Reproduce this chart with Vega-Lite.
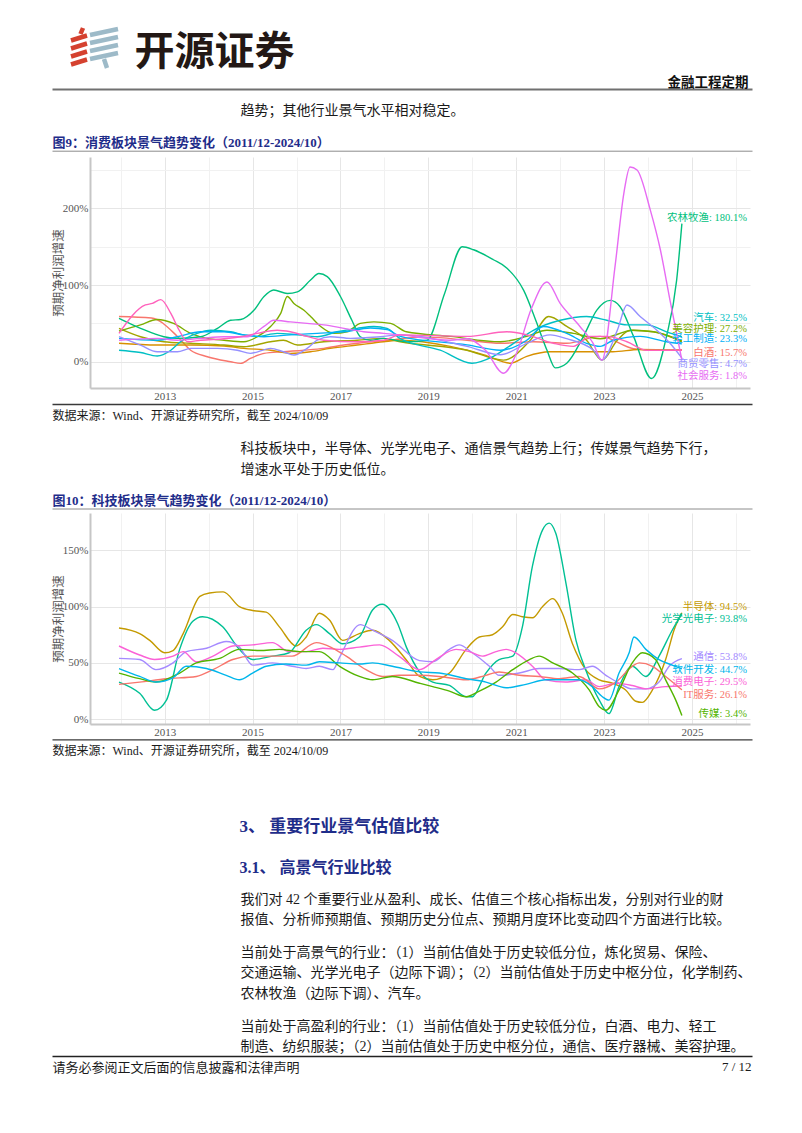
{
"$schema": "https://vega.github.io/schema/vega-lite/v6.json",
"background": "white",
"padding": {"left": 52, "top": 0, "right": 0, "bottom": 0},
"spacing": 0,
"bounds": "flush",
"resolve": {"scale": {"color": "independent"}},
"config": {
  "view": {"stroke": null},
  "axis": {"ticks": false, "labelFont": "Liberation Serif", "titleFont": "Liberation Serif, Noto Sans CJK SC", "titleFontWeight": "normal", "titleColor": "#1a1a1a"}
},
"datasets": {
  "logo": [
    {"id":"r0","part":"红","x":2.85,"y":5.5},{"id":"r0","part":"红","x":3.1,"y":6.1},
    {"id":"r1","part":"红","x":1.9,"y":4.85},{"id":"r1","part":"红","x":3.5,"y":5.35},
    {"id":"r2","part":"红","x":1.9,"y":4.05},{"id":"r2","part":"红","x":3.5,"y":4.55},
    {"id":"r3","part":"红","x":1.9,"y":3.25},{"id":"r3","part":"红","x":3.5,"y":3.75},
    {"id":"r4","part":"红","x":1.9,"y":2.45},{"id":"r4","part":"红","x":3.5,"y":2.95},
    {"id":"b1","part":"蓝","x":3.8,"y":5.4},{"id":"b1","part":"蓝","x":6.6,"y":6.0},
    {"id":"b2","part":"蓝","x":3.8,"y":4.6},{"id":"b2","part":"蓝","x":6.6,"y":5.2},
    {"id":"b3","part":"蓝","x":3.8,"y":3.8},{"id":"b3","part":"蓝","x":6.6,"y":4.4},
    {"id":"b4","part":"蓝","x":3.8,"y":3.0},{"id":"b4","part":"蓝","x":6.6,"y":3.6},
    {"id":"b5","part":"蓝","x":5.2,"y":3.0},{"id":"b5","part":"蓝","x":5.5,"y":2.1}
  ],
  "c1": [
    {"s":"白酒","t":2011.96,"v":59},{"s":"白酒","t":2012.7,"v":57},{"s":"白酒","t":2013.29,"v":33},{"s":"白酒","t":2013.59,"v":15},{"s":"白酒","t":2013.97,"v":6.5},{"s":"白酒","t":2014.5,"v":0},{"s":"白酒","t":2014.73,"v":-2.2},{"s":"白酒","t":2014.95,"v":4.3},{"s":"白酒","t":2015.26,"v":10.9},{"s":"白酒","t":2015.7,"v":13},{"s":"白酒","t":2016.17,"v":15},{"s":"白酒","t":2016.62,"v":17.4},{"s":"白酒","t":2017.08,"v":21.7},{"s":"白酒","t":2017.68,"v":26},{"s":"白酒","t":2018.14,"v":28},{"s":"白酒","t":2018.5,"v":31},{"s":"白酒","t":2019.0,"v":32},{"s":"白酒","t":2019.88,"v":28},{"s":"白酒","t":2020.64,"v":24},{"s":"白酒","t":2021.39,"v":26},{"s":"白酒","t":2022.15,"v":24},{"s":"白酒","t":2022.91,"v":33},{"s":"白酒","t":2023.67,"v":17},{"s":"白酒","t":2024.12,"v":15},{"s":"白酒","t":2024.77,"v":15.7},
    {"s":"其他A","t":2011.96,"v":24},{"s":"其他A","t":2012.83,"v":21.7},{"s":"其他A","t":2013.59,"v":21.7},{"s":"其他A","t":2014.35,"v":20.4},{"s":"其他A","t":2014.8,"v":17.4},{"s":"其他A","t":2015.41,"v":15},{"s":"其他A","t":2015.86,"v":10.9},{"s":"其他A","t":2016.32,"v":13},{"s":"其他A","t":2016.77,"v":17.4},{"s":"其他A","t":2017.38,"v":21.7},{"s":"其他A","t":2017.98,"v":26},{"s":"其他A","t":2018.36,"v":28},{"s":"其他A","t":2019.5,"v":20},{"s":"其他A","t":2020.27,"v":9},{"s":"其他A","t":2020.87,"v":-2},{"s":"其他A","t":2021.24,"v":7},{"s":"其他A","t":2021.77,"v":13},{"s":"其他A","t":2022.6,"v":13},{"s":"其他A","t":2023.2,"v":13},{"s":"其他A","t":2023.8,"v":16},{"s":"其他A","t":2024.77,"v":15},
    {"s":"其他B","t":2011.96,"v":43.5},{"s":"其他B","t":2012.45,"v":32.6},{"s":"其他B","t":2012.98,"v":26},{"s":"其他B","t":2013.59,"v":24},{"s":"其他B","t":2014.35,"v":21.7},{"s":"其他B","t":2014.8,"v":19.6},{"s":"其他B","t":2015.41,"v":26},{"s":"其他B","t":2015.7,"v":28},{"s":"其他B","t":2016.02,"v":21.7},{"s":"其他B","t":2016.62,"v":26},{"s":"其他B","t":2017.38,"v":28},{"s":"其他B","t":2017.98,"v":30.4},{"s":"其他B","t":2018.36,"v":26},{"s":"其他B","t":2019.88,"v":15},{"s":"其他B","t":2020.71,"v":2},{"s":"其他B","t":2021.32,"v":28},{"s":"其他B","t":2021.74,"v":59},{"s":"其他B","t":2022.15,"v":46},{"s":"其他B","t":2022.6,"v":28},{"s":"其他B","t":2022.95,"v":2},{"s":"其他B","t":2023.3,"v":28},{"s":"其他B","t":2023.6,"v":41},{"s":"其他B","t":2024.12,"v":39},{"s":"其他B","t":2024.77,"v":26},
    {"s":"美容护理","t":2011.96,"v":40},{"s":"美容护理","t":2012.45,"v":48},{"s":"美容护理","t":2012.83,"v":55},{"s":"美容护理","t":2013.2,"v":50},{"s":"美容护理","t":2013.59,"v":37},{"s":"美容护理","t":2013.97,"v":30.4},{"s":"美容护理","t":2014.35,"v":28},{"s":"美容护理","t":2014.8,"v":26},{"s":"美容护理","t":2015.11,"v":32.6},{"s":"美容护理","t":2015.41,"v":46},{"s":"美容护理","t":2015.64,"v":63},{"s":"美容护理","t":2015.79,"v":85},{"s":"美容护理","t":2015.94,"v":76},{"s":"美容护理","t":2016.17,"v":67},{"s":"美容护理","t":2016.32,"v":59},{"s":"美容护理","t":2016.55,"v":46},{"s":"美容护理","t":2016.85,"v":37},{"s":"美容护理","t":2017.15,"v":39},{"s":"美容护理","t":2017.45,"v":50},{"s":"美容护理","t":2017.76,"v":52},{"s":"美容护理","t":2018.14,"v":50},{"s":"美容护理","t":2018.5,"v":39},{"s":"美容护理","t":2019.5,"v":33},{"s":"美容护理","t":2020.64,"v":26},{"s":"美容护理","t":2021.24,"v":33},{"s":"美容护理","t":2021.7,"v":41},{"s":"美容护理","t":2022.3,"v":37},{"s":"美容护理","t":2022.91,"v":30},{"s":"美容护理","t":2023.67,"v":41},{"s":"美容护理","t":2024.12,"v":39},{"s":"美容护理","t":2024.77,"v":27.2},
    {"s":"农林牧渔","t":2011.96,"v":56.5},{"s":"农林牧渔","t":2012.45,"v":43.5},{"s":"农林牧渔","t":2012.98,"v":32.6},{"s":"农林牧渔","t":2013.29,"v":30.4},{"s":"农林牧渔","t":2013.82,"v":32.6},{"s":"农林牧渔","t":2014.2,"v":43.5},{"s":"农林牧渔","t":2014.5,"v":54},{"s":"农林牧渔","t":2014.73,"v":55},{"s":"农林牧渔","t":2015.03,"v":67},{"s":"农林牧渔","t":2015.26,"v":85},{"s":"农林牧渔","t":2015.48,"v":93.5},{"s":"农林牧渔","t":2015.79,"v":89},{"s":"农林牧渔","t":2016.02,"v":91},{"s":"农林牧渔","t":2016.32,"v":106.5},{"s":"农林牧渔","t":2016.51,"v":115},{"s":"农林牧渔","t":2016.7,"v":111},{"s":"农林牧渔","t":2017.0,"v":85},{"s":"农林牧渔","t":2017.26,"v":54},{"s":"农林牧渔","t":2017.45,"v":32.6},{"s":"农林牧渔","t":2017.68,"v":28},{"s":"农林牧渔","t":2017.98,"v":30.4},{"s":"农林牧渔","t":2018.5,"v":26},{"s":"农林牧渔","t":2018.97,"v":28},{"s":"农林牧渔","t":2019.37,"v":89},{"s":"农林牧渔","t":2019.77,"v":150},{"s":"农林牧渔","t":2020.03,"v":146},{"s":"农林牧渔","t":2020.48,"v":133},{"s":"农林牧渔","t":2020.79,"v":122},{"s":"农林牧渔","t":2021.17,"v":93},{"s":"农林牧渔","t":2021.47,"v":50},{"s":"农林牧渔","t":2021.7,"v":15},{"s":"农林牧渔","t":2021.89,"v":-8},{"s":"农林牧渔","t":2022.15,"v":-2},{"s":"农林牧渔","t":2022.53,"v":33},{"s":"农林牧渔","t":2022.83,"v":67},{"s":"农林牧渔","t":2023.14,"v":80},{"s":"农林牧渔","t":2023.36,"v":72},{"s":"农林牧渔","t":2023.67,"v":33},{"s":"农林牧渔","t":2024.08,"v":-22},{"s":"农林牧渔","t":2024.42,"v":33},{"s":"农林牧渔","t":2024.65,"v":106},{"s":"农林牧渔","t":2024.77,"v":180.1},
    {"s":"汽车","t":2011.96,"v":15},{"s":"汽车","t":2012.45,"v":12},{"s":"汽车","t":2012.83,"v":7.4},{"s":"汽车","t":2013.14,"v":15},{"s":"汽车","t":2013.36,"v":26},{"s":"汽车","t":2013.74,"v":37},{"s":"汽车","t":2014.05,"v":41},{"s":"汽车","t":2014.5,"v":39},{"s":"汽车","t":2014.8,"v":35},{"s":"汽车","t":2015.11,"v":33},{"s":"汽车","t":2015.56,"v":37},{"s":"汽车","t":2016.02,"v":35},{"s":"汽车","t":2016.47,"v":32.6},{"s":"汽车","t":2016.92,"v":39},{"s":"汽车","t":2017.38,"v":43.5},{"s":"汽车","t":2017.76,"v":46},{"s":"汽车","t":2018.06,"v":43.5},{"s":"汽车","t":2018.36,"v":30},{"s":"汽车","t":2019.27,"v":15},{"s":"汽车","t":2019.99,"v":-2},{"s":"汽车","t":2020.48,"v":7},{"s":"汽车","t":2020.94,"v":24},{"s":"汽车","t":2021.39,"v":41},{"s":"汽车","t":2022.0,"v":54},{"s":"汽车","t":2022.6,"v":59},{"s":"汽车","t":2023.06,"v":54},{"s":"汽车","t":2023.52,"v":48},{"s":"汽车","t":2023.97,"v":48},{"s":"汽车","t":2024.42,"v":39},{"s":"汽车","t":2024.77,"v":32.5},
    {"s":"轻工制造","t":2011.96,"v":30.4},{"s":"轻工制造","t":2012.83,"v":28},{"s":"轻工制造","t":2013.29,"v":32.6},{"s":"轻工制造","t":2013.82,"v":39},{"s":"轻工制造","t":2014.35,"v":39},{"s":"轻工制造","t":2014.8,"v":35},{"s":"轻工制造","t":2015.26,"v":32.6},{"s":"轻工制造","t":2015.86,"v":35},{"s":"轻工制造","t":2016.47,"v":37},{"s":"轻工制造","t":2017.08,"v":39},{"s":"轻工制造","t":2017.68,"v":44},{"s":"轻工制造","t":2018.06,"v":42},{"s":"轻工制造","t":2018.36,"v":33},{"s":"轻工制造","t":2019.88,"v":22},{"s":"轻工制造","t":2020.64,"v":15},{"s":"轻工制造","t":2021.24,"v":28},{"s":"轻工制造","t":2021.62,"v":46},{"s":"轻工制造","t":2022.15,"v":37},{"s":"轻工制造","t":2022.6,"v":24},{"s":"轻工制造","t":2022.91,"v":20},{"s":"轻工制造","t":2023.21,"v":28},{"s":"轻工制造","t":2023.82,"v":33},{"s":"轻工制造","t":2024.42,"v":26},{"s":"轻工制造","t":2024.77,"v":23.3},
    {"s":"商贸零售","t":2011.96,"v":32.6},{"s":"商贸零售","t":2012.45,"v":21.7},{"s":"商贸零售","t":2012.83,"v":13},{"s":"商贸零售","t":2013.29,"v":13},{"s":"商贸零售","t":2013.59,"v":17.4},{"s":"商贸零售","t":2014.2,"v":17.4},{"s":"商贸零售","t":2014.65,"v":15},{"s":"商贸零售","t":2014.95,"v":10.9},{"s":"商贸零售","t":2015.41,"v":17.4},{"s":"商贸零售","t":2015.7,"v":13},{"s":"商贸零售","t":2015.94,"v":8.7},{"s":"商贸零售","t":2016.24,"v":17.4},{"s":"商贸零售","t":2016.47,"v":28},{"s":"商贸零售","t":2016.77,"v":32.6},{"s":"商贸零售","t":2017.23,"v":30.4},{"s":"商贸零售","t":2017.91,"v":32.6},{"s":"商贸零售","t":2018.36,"v":35},{"s":"商贸零售","t":2019.88,"v":20},{"s":"商贸零售","t":2020.64,"v":9},{"s":"商贸零售","t":2021.24,"v":24},{"s":"商贸零售","t":2021.77,"v":35},{"s":"商贸零售","t":2022.15,"v":30},{"s":"商贸零售","t":2022.76,"v":15},{"s":"商贸零售","t":2022.95,"v":2},{"s":"商贸零售","t":2023.3,"v":41},{"s":"商贸零售","t":2023.52,"v":74},{"s":"商贸零售","t":2023.82,"v":59},{"s":"商贸零售","t":2024.2,"v":41},{"s":"商贸零售","t":2024.5,"v":24},{"s":"商贸零售","t":2024.77,"v":4.7},
    {"s":"社会服务","t":2011.96,"v":28},{"s":"社会服务","t":2012.83,"v":30.4},{"s":"社会服务","t":2013.29,"v":28},{"s":"社会服务","t":2013.82,"v":30.4},{"s":"社会服务","t":2014.35,"v":32.6},{"s":"社会服务","t":2014.88,"v":32.6},{"s":"社会服务","t":2015.26,"v":46},{"s":"社会服务","t":2015.48,"v":54},{"s":"社会服务","t":2015.86,"v":52},{"s":"社会服务","t":2016.24,"v":50},{"s":"社会服务","t":2016.62,"v":48},{"s":"社会服务","t":2017.08,"v":43.5},{"s":"社会服务","t":2017.53,"v":39},{"s":"社会服务","t":2017.98,"v":37},{"s":"社会服务","t":2018.36,"v":35},{"s":"社会服务","t":2019.5,"v":28},{"s":"社会服务","t":2019.88,"v":30},{"s":"社会服务","t":2020.3,"v":15},{"s":"社会服务","t":2020.71,"v":-15},{"s":"社会服务","t":2021.0,"v":10},{"s":"社会服务","t":2021.35,"v":70},{"s":"社会服务","t":2021.7,"v":104},{"s":"社会服务","t":2022.0,"v":76},{"s":"社会服务","t":2022.45,"v":46},{"s":"社会服务","t":2022.75,"v":24},{"s":"社会服务","t":2022.95,"v":2},{"s":"社会服务","t":2023.25,"v":125},{"s":"社会服务","t":2023.45,"v":220},{"s":"社会服务","t":2023.59,"v":254},{"s":"社会服务","t":2023.75,"v":250},{"s":"社会服务","t":2024.05,"v":198},{"s":"社会服务","t":2024.28,"v":146},{"s":"社会服务","t":2024.5,"v":80},{"s":"社会服务","t":2024.77,"v":1.8},
    {"s":"其他C","t":2011.96,"v":37},{"s":"其他C","t":2012.56,"v":74},{"s":"其他C","t":2012.72,"v":76},{"s":"其他C","t":2012.91,"v":81},{"s":"其他C","t":2013.14,"v":63},{"s":"其他C","t":2013.33,"v":41},{"s":"其他C","t":2013.52,"v":26},{"s":"其他C","t":2013.82,"v":28},{"s":"其他C","t":2014.35,"v":30},{"s":"其他C","t":2014.73,"v":32.6},{"s":"其他C","t":2015.11,"v":37},{"s":"其他C","t":2015.56,"v":41},{"s":"其他C","t":2015.86,"v":39},{"s":"其他C","t":2016.24,"v":33},{"s":"其他C","t":2016.62,"v":28},{"s":"其他C","t":2017.38,"v":26},{"s":"其他C","t":2017.98,"v":28},{"s":"其他C","t":2018.36,"v":35},{"s":"其他C","t":2019.88,"v":33},{"s":"其他C","t":2020.79,"v":39},{"s":"其他C","t":2021.24,"v":35},{"s":"其他C","t":2021.85,"v":24},{"s":"其他C","t":2022.3,"v":20},{"s":"其他C","t":2022.68,"v":33},{"s":"其他C","t":2023.06,"v":33},{"s":"其他C","t":2023.52,"v":26},{"s":"其他C","t":2023.97,"v":15},{"s":"其他C","t":2024.77,"v":15}
  ],
  "c1lab": [
    {"s":"农林牧渔","label":"农林牧渔: 180.1%","ly":187.7},
    {"s":"汽车","label":"汽车: 32.5%","ly":56.6},
    {"s":"美容护理","label":"美容护理: 27.2%","ly":42.2},
    {"s":"轻工制造","label":"轻工制造: 23.3%","ly":29.2},
    {"s":"白酒","label":"白酒: 15.7%","ly":11.7},
    {"s":"商贸零售","label":"商贸零售: 4.7%","ly":-3.4},
    {"s":"社会服务","label":"社会服务: 1.8%","ly":-18.3}
  ],
  "c2": [
    {"s":"半导体","t":2011.96,"v":81},{"s":"半导体","t":2012.43,"v":76},{"s":"半导体","t":2012.66,"v":70},{"s":"半导体","t":2013.0,"v":59},{"s":"半导体","t":2013.19,"v":61},{"s":"半导体","t":2013.42,"v":76},{"s":"半导体","t":2013.8,"v":109},{"s":"半导体","t":2014.02,"v":112},{"s":"半导体","t":2014.33,"v":113},{"s":"半导体","t":2014.7,"v":100},{"s":"半导体","t":2015.0,"v":96.5},{"s":"半导体","t":2015.31,"v":95},{"s":"半导体","t":2015.61,"v":82},{"s":"半导体","t":2015.99,"v":65},{"s":"半导体","t":2016.22,"v":73},{"s":"半导体","t":2016.52,"v":94},{"s":"半导体","t":2016.75,"v":88},{"s":"半导体","t":2017.05,"v":70},{"s":"半导体","t":2017.43,"v":76},{"s":"半导体","t":2017.73,"v":79},{"s":"半导体","t":2018.11,"v":70},{"s":"半导体","t":2018.49,"v":53},{"s":"半导体","t":2018.8,"v":38},{"s":"半导体","t":2019.1,"v":35},{"s":"半导体","t":2019.48,"v":41},{"s":"半导体","t":2019.86,"v":62},{"s":"半导体","t":2020.16,"v":73},{"s":"半导体","t":2020.46,"v":75},{"s":"半导体","t":2020.69,"v":82},{"s":"半导体","t":2020.92,"v":93},{"s":"半导体","t":2021.14,"v":91},{"s":"半导体","t":2021.37,"v":90},{"s":"半导体","t":2021.6,"v":100},{"s":"半导体","t":2021.83,"v":107},{"s":"半导体","t":2022.05,"v":94},{"s":"半导体","t":2022.28,"v":67},{"s":"半导体","t":2022.58,"v":44},{"s":"半导体","t":2022.89,"v":35},{"s":"半导体","t":2023.19,"v":32},{"s":"半导体","t":2023.49,"v":26},{"s":"半导体","t":2023.72,"v":16},{"s":"半导体","t":2023.87,"v":15},{"s":"半导体","t":2024.1,"v":26},{"s":"半导体","t":2024.4,"v":53},{"s":"半导体","t":2024.6,"v":80},{"s":"半导体","t":2024.77,"v":94.5},
    {"s":"光学光电子","t":2011.96,"v":33},{"s":"光学光电子","t":2012.43,"v":23},{"s":"光学光电子","t":2012.77,"v":8},{"s":"光学光电子","t":2013.04,"v":17},{"s":"光学光电子","t":2013.34,"v":62},{"s":"光学光电子","t":2013.64,"v":87},{"s":"光学光电子","t":2013.86,"v":91},{"s":"光学光电子","t":2014.32,"v":82},{"s":"光学光电子","t":2014.7,"v":62},{"s":"光学光电子","t":2015.0,"v":53},{"s":"光学光电子","t":2015.45,"v":56},{"s":"光学光电子","t":2015.83,"v":59},{"s":"光学光电子","t":2016.22,"v":79},{"s":"光学光电子","t":2016.45,"v":84},{"s":"光学光电子","t":2016.75,"v":76},{"s":"光学光电子","t":2017.05,"v":67},{"s":"光学光电子","t":2017.43,"v":73},{"s":"光学光电子","t":2017.73,"v":97},{"s":"光学光电子","t":2017.95,"v":102},{"s":"光学光电子","t":2018.3,"v":85},{"s":"光学光电子","t":2018.5,"v":64},{"s":"光学光电子","t":2018.8,"v":42},{"s":"光学光电子","t":2019.1,"v":33},{"s":"光学光电子","t":2019.48,"v":30},{"s":"光学光电子","t":2019.86,"v":20},{"s":"光学光电子","t":2020.0,"v":20},{"s":"光学光电子","t":2020.31,"v":41},{"s":"光学光电子","t":2020.61,"v":53},{"s":"光学光电子","t":2020.92,"v":56},{"s":"光学光电子","t":2021.14,"v":82},{"s":"光学光电子","t":2021.37,"v":136},{"s":"光学光电子","t":2021.6,"v":168},{"s":"光学光电子","t":2021.75,"v":174},{"s":"光学光电子","t":2021.9,"v":165},{"s":"光学光电子","t":2022.13,"v":121},{"s":"光学光电子","t":2022.36,"v":70},{"s":"光学光电子","t":2022.58,"v":44},{"s":"光学光电子","t":2022.89,"v":17},{"s":"光学光电子","t":2023.11,"v":5},{"s":"光学光电子","t":2023.34,"v":29},{"s":"光学光电子","t":2023.64,"v":47},{"s":"光学光电子","t":2023.95,"v":38},{"s":"光学光电子","t":2024.25,"v":56},{"s":"光学光电子","t":2024.55,"v":79},{"s":"光学光电子","t":2024.77,"v":93.8},
    {"s":"通信","t":2011.96,"v":54},{"s":"通信","t":2012.43,"v":53},{"s":"通信","t":2012.8,"v":44},{"s":"通信","t":2013.19,"v":50},{"s":"通信","t":2013.49,"v":60},{"s":"通信","t":2013.95,"v":63},{"s":"通信","t":2014.4,"v":69},{"s":"通信","t":2014.7,"v":64},{"s":"通信","t":2015.0,"v":48},{"s":"通信","t":2015.45,"v":50},{"s":"通信","t":2015.9,"v":47},{"s":"通信","t":2016.22,"v":45},{"s":"通信","t":2016.52,"v":47},{"s":"通信","t":2016.83,"v":44},{"s":"通信","t":2016.98,"v":55},{"s":"通信","t":2017.45,"v":84},{"s":"通信","t":2017.73,"v":79},{"s":"通信","t":2018.18,"v":70},{"s":"通信","t":2018.8,"v":52},{"s":"通信","t":2019.1,"v":51},{"s":"通信","t":2019.48,"v":62},{"s":"通信","t":2019.7,"v":66},{"s":"通信","t":2020.0,"v":59},{"s":"通信","t":2020.39,"v":47},{"s":"通信","t":2020.61,"v":39},{"s":"通信","t":2021.07,"v":41},{"s":"通信","t":2021.52,"v":45},{"s":"通信","t":2021.98,"v":45},{"s":"通信","t":2022.43,"v":44},{"s":"通信","t":2022.73,"v":47},{"s":"通信","t":2023.04,"v":39},{"s":"通信","t":2023.34,"v":32},{"s":"通信","t":2023.64,"v":27},{"s":"通信","t":2023.95,"v":27},{"s":"通信","t":2024.25,"v":33},{"s":"通信","t":2024.48,"v":47},{"s":"通信","t":2024.77,"v":53.8},
    {"s":"消费电子","t":2011.96,"v":65},{"s":"消费电子","t":2012.43,"v":57},{"s":"消费电子","t":2012.77,"v":53},{"s":"消费电子","t":2013.19,"v":56},{"s":"消费电子","t":2013.42,"v":60},{"s":"消费电子","t":2013.72,"v":51},{"s":"消费电子","t":2014.1,"v":56},{"s":"消费电子","t":2014.55,"v":65},{"s":"消费电子","t":2015.0,"v":66},{"s":"消费电子","t":2015.45,"v":68},{"s":"消费电子","t":2015.83,"v":60},{"s":"消费电子","t":2016.22,"v":60},{"s":"消费电子","t":2016.6,"v":63},{"s":"消费电子","t":2016.98,"v":62},{"s":"消费电子","t":2017.43,"v":64},{"s":"消费电子","t":2017.89,"v":66},{"s":"消费电子","t":2018.33,"v":56},{"s":"消费电子","t":2018.8,"v":44},{"s":"消费电子","t":2019.17,"v":53},{"s":"消费电子","t":2019.63,"v":62},{"s":"消费电子","t":2019.93,"v":60},{"s":"消费电子","t":2020.23,"v":56},{"s":"消费电子","t":2020.54,"v":60},{"s":"消费电子","t":2020.77,"v":62},{"s":"消费电子","t":2020.99,"v":59},{"s":"消费电子","t":2021.37,"v":47},{"s":"消费电子","t":2021.67,"v":35},{"s":"消费电子","t":2022.13,"v":33},{"s":"消费电子","t":2022.58,"v":35},{"s":"消费电子","t":2022.89,"v":29},{"s":"消费电子","t":2023.27,"v":32},{"s":"消费电子","t":2023.64,"v":30},{"s":"消费电子","t":2023.95,"v":27},{"s":"消费电子","t":2024.4,"v":29},{"s":"消费电子","t":2024.77,"v":29.5},
    {"s":"IT服务","t":2011.96,"v":31},{"s":"IT服务","t":2012.43,"v":33},{"s":"IT服务","t":2013.04,"v":36},{"s":"IT服务","t":2013.72,"v":38},{"s":"IT服务","t":2014.1,"v":44},{"s":"IT服务","t":2014.55,"v":53},{"s":"IT服务","t":2015.0,"v":56},{"s":"IT服务","t":2015.45,"v":56},{"s":"IT服务","t":2015.9,"v":56},{"s":"IT服务","t":2016.45,"v":68},{"s":"IT服务","t":2016.83,"v":63},{"s":"IT服务","t":2017.13,"v":56},{"s":"IT服务","t":2017.58,"v":44},{"s":"IT服务","t":2017.95,"v":38},{"s":"IT服务","t":2018.33,"v":39},{"s":"IT服务","t":2018.8,"v":39},{"s":"IT服务","t":2019.25,"v":38},{"s":"IT服务","t":2019.86,"v":35},{"s":"IT服务","t":2020.31,"v":39},{"s":"IT服务","t":2020.61,"v":42},{"s":"IT服务","t":2021.07,"v":39},{"s":"IT服务","t":2021.52,"v":38},{"s":"IT服务","t":2021.98,"v":36},{"s":"IT服务","t":2022.43,"v":38},{"s":"IT服务","t":2022.89,"v":27},{"s":"IT服务","t":2023.27,"v":33},{"s":"IT服务","t":2023.64,"v":47},{"s":"IT服务","t":2023.8,"v":50},{"s":"IT服务","t":2024.1,"v":47},{"s":"IT服务","t":2024.4,"v":38},{"s":"IT服务","t":2024.77,"v":26.1},
    {"s":"传媒","t":2011.96,"v":41},{"s":"传媒","t":2012.43,"v":36},{"s":"传媒","t":2012.8,"v":33},{"s":"传媒","t":2013.34,"v":41},{"s":"传媒","t":2013.72,"v":50},{"s":"传媒","t":2014.25,"v":54},{"s":"传媒","t":2014.7,"v":62},{"s":"传媒","t":2015.16,"v":61},{"s":"传媒","t":2015.61,"v":62},{"s":"传媒","t":2016.07,"v":60},{"s":"传媒","t":2016.52,"v":60},{"s":"传媒","t":2016.98,"v":47},{"s":"传媒","t":2017.43,"v":38},{"s":"传媒","t":2017.73,"v":35},{"s":"传媒","t":2018.18,"v":38},{"s":"传媒","t":2018.8,"v":32},{"s":"传媒","t":2019.1,"v":29},{"s":"传媒","t":2019.48,"v":25},{"s":"传媒","t":2019.86,"v":20},{"s":"传媒","t":2020.16,"v":25},{"s":"传媒","t":2020.54,"v":33},{"s":"传媒","t":2020.92,"v":44},{"s":"传媒","t":2021.3,"v":53},{"s":"传媒","t":2021.52,"v":56},{"s":"传媒","t":2021.83,"v":50},{"s":"传媒","t":2022.28,"v":41},{"s":"传媒","t":2022.66,"v":26},{"s":"传媒","t":2022.89,"v":11},{"s":"传媒","t":2023.04,"v":8},{"s":"传媒","t":2023.34,"v":26},{"s":"传媒","t":2023.64,"v":50},{"s":"传媒","t":2023.87,"v":59},{"s":"传媒","t":2024.17,"v":53},{"s":"传媒","t":2024.4,"v":35},{"s":"传媒","t":2024.63,"v":17},{"s":"传媒","t":2024.77,"v":3.4},
    {"s":"软件开发","t":2011.96,"v":45},{"s":"软件开发","t":2012.43,"v":38},{"s":"软件开发","t":2012.8,"v":33},{"s":"软件开发","t":2013.19,"v":37},{"s":"软件开发","t":2013.49,"v":47},{"s":"软件开发","t":2013.95,"v":45},{"s":"软件开发","t":2014.4,"v":39},{"s":"软件开发","t":2014.7,"v":35},{"s":"软件开发","t":2015.0,"v":41},{"s":"软件开发","t":2015.31,"v":47},{"s":"软件开发","t":2015.76,"v":49},{"s":"软件开发","t":2016.22,"v":48},{"s":"软件开发","t":2016.52,"v":51},{"s":"软件开发","t":2016.98,"v":50},{"s":"软件开发","t":2017.43,"v":49},{"s":"软件开发","t":2017.73,"v":50},{"s":"软件开发","t":2018.18,"v":47},{"s":"软件开发","t":2018.8,"v":42},{"s":"软件开发","t":2019.25,"v":41},{"s":"软件开发","t":2019.86,"v":36},{"s":"软件开发","t":2020.31,"v":33},{"s":"软件开发","t":2020.77,"v":28},{"s":"软件开发","t":2021.22,"v":31},{"s":"软件开发","t":2021.67,"v":35},{"s":"软件开发","t":2022.13,"v":35},{"s":"软件开发","t":2022.43,"v":35},{"s":"软件开发","t":2022.73,"v":29},{"s":"软件开发","t":2022.96,"v":20},{"s":"软件开发","t":2023.11,"v":17},{"s":"软件开发","t":2023.34,"v":41},{"s":"软件开发","t":2023.57,"v":59},{"s":"软件开发","t":2023.68,"v":73},{"s":"软件开发","t":2023.95,"v":62},{"s":"软件开发","t":2024.25,"v":53},{"s":"软件开发","t":2024.55,"v":48},{"s":"软件开发","t":2024.77,"v":44.7}
  ],
  "c2lab": [
    {"s":"半导体","label":"半导体: 94.5%","ly":100},
    {"s":"光学光电子","label":"光学光电子: 93.8%","ly":88.8},
    {"s":"通信","label":"通信: 53.8%","ly":55},
    {"s":"软件开发","label":"软件开发: 44.7%","ly":43.8},
    {"s":"消费电子","label":"消费电子: 29.5%","ly":33},
    {"s":"IT服务","label":"IT服务: 26.1%","ly":21.6},
    {"s":"传媒","label":"传媒: 3.4%","ly":4.4}
  ],
  "dummy": [{"k": 0}]
},
"vconcat": [
  {
    "width": 700, "height": 89,
    "data": {"name": "logo"},
    "mark": {"type": "line", "strokeWidth": 4.5, "strokeCap": "butt"},
    "encoding": {
      "x": {"field": "x", "type": "quantitative", "scale": {"domain": [0, 70], "nice": false, "zero": false},
        "axis": {"orient": "bottom", "domainColor": "#707070", "domainWidth": 2, "labels": false, "grid": false,
          "title": "金融工程定期", "titleX": 696, "titleY": -2.7, "titleAngle": 0, "titleAlign": "right", "titleBaseline": "alphabetic",
          "titleFont": "Noto Sans CJK SC", "titleFontSize": 13.5, "titleFontWeight": "bold", "titleColor": "#111111"}},
      "y": {"field": "y", "type": "quantitative", "scale": {"domain": [0, 8.9], "nice": false, "zero": false},
        "axis": {"orient": "left", "domain": false, "labels": false, "grid": false,
          "title": "开源证券", "titleX": 82, "titleY": 64, "titleAngle": 0, "titleAlign": "left", "titleBaseline": "alphabetic",
          "titleFont": "Noto Sans CJK SC", "titleFontSize": 40, "titleFontWeight": "bold", "titleColor": "#231815"}},
      "detail": {"field": "id"},
      "color": {"field": "part", "type": "nominal", "scale": {"domain": ["红", "蓝"], "range": ["#d5412f", "#9dbac8"]}, "legend": null}
    }
  },
  {
    "width": 700, "height": 68,
    "data": {"name": "dummy"},
    "mark": {"type": "point", "opacity": 0, "size": 0},
    "encoding": {
      "x": {"field": "k", "type": "quantitative", "scale": {"domain": [-1, 1]},
        "axis": {"orient": "bottom", "offset": -6.3, "domainColor": "#8c8c8c", "domainWidth": 1, "labels": false, "grid": false,
          "title": "图9：消费板块景气趋势变化（2011/12-2024/10）", "titleX": 0, "titleY": -4.1, "titleAngle": 0, "titleAlign": "left", "titleBaseline": "alphabetic",
          "titleFontSize": 13, "titleFontWeight": "bold", "titleColor": "#1f2d8a"}},
      "y": {"field": "k", "type": "quantitative", "scale": {"domain": [-1, 1]},
        "axis": {"orient": "left", "domain": false, "labels": false, "grid": false,
          "title": "趋势；其他行业景气水平相对稳定。", "titleX": 188, "titleY": 25.5, "titleAngle": 0, "titleAlign": "left", "titleBaseline": "alphabetic",
          "titleFontSize": 14}}
    }
  },
  {
    "width": 700, "height": 231,
    "layer": [
      {
        "data": {"name": "c1"},
        "mark": {"type": "line", "interpolate": "monotone", "strokeWidth": 1.4, "strokeJoin": "round"},
        "encoding": {
          "x": {"field": "t", "type": "quantitative", "title": null,
            "scale": {"domain": [2011.3, 2026.32], "range": [38, 698], "nice": false, "zero": false},
            "axis": {"orient": "bottom", "values": [2012,2013,2014,2015,2016,2017,2018,2019,2020,2021,2022,2023,2024,2025,2026],
              "labelExpr": "datum.value % 2 === 1 ? format(datum.value, 'd') : ''",
              "domainColor": "#c6c6c6", "domainWidth": 2, "labelFontSize": 11, "labelColor": "#555555", "labelPadding": 2,
              "grid": true, "gridWidth": 1, "gridColor": {"condition": {"test": "datum.value % 2 === 1", "value": "#e6e6e6"}, "value": "#f1f1f1"}}},
          "y": {"field": "v", "type": "quantitative",
            "scale": {"domain": [-34.3, 267], "nice": false, "zero": false},
            "axis": {"orient": "left", "offset": -38, "values": [0, 50, 100, 150, 200, 250],
              "labelExpr": "datum.value % 100 === 0 ? datum.value + '%' : ''",
              "domainColor": "#c6c6c6", "domainWidth": 2, "labelFontSize": 11, "labelColor": "#555555", "labelPadding": 2,
              "grid": true, "gridWidth": 1, "gridColor": {"condition": {"test": "datum.value % 100 === 0", "value": "#e6e6e6"}, "value": "#f1f1f1"},
              "title": "预期净利润增速", "titleX": -32, "titleY": 115.5, "titleAngle": 270, "titleAlign": "center", "titleBaseline": "middle",
              "titleFont": "Noto Sans CJK SC", "titleFontSize": 12.5, "titleColor": "#555555"}},
          "color": {"field": "s", "type": "nominal", "legend": null,
            "scale": {"domain": ["白酒","其他A","其他B","美容护理","农林牧渔","汽车","轻工制造","商贸零售","社会服务","其他C"],
              "range": ["#F8766D","#D89000","#A3A500","#7CAE00","#00BF7D","#00BFC4","#00B0F6","#9590FF","#E76BF3","#FF62BC"]}}
        }
      },
      {
        "data": {"name": "c1lab"},
        "mark": {"type": "text", "align": "right", "baseline": "middle", "font": "Liberation Serif, Noto Sans CJK SC", "fontSize": 10.5},
        "encoding": {
          "x": {"datum": 2026.25, "type": "quantitative", "title": null},
          "y": {"field": "ly", "type": "quantitative", "title": "预期净利润增速"},
          "text": {"field": "label"},
          "color": {"field": "s", "type": "nominal", "legend": null}
        }
      }
    ]
  },
  {
    "width": 700, "height": 125,
    "data": {"name": "dummy"},
    "layer": [
      {
        "mark": {"type": "point", "opacity": 0, "size": 0},
        "encoding": {
          "x": {"field": "k", "type": "quantitative", "scale": {"domain": [-1, 1]},
            "axis": {"orient": "bottom", "offset": -4.5, "domainColor": "#8c8c8c", "domainWidth": 1, "labels": false, "grid": false,
              "title": "图10：科技板块景气趋势变化（2011/12-2024/10）", "titleX": 0, "titleY": -4.1, "titleAngle": 0, "titleAlign": "left", "titleBaseline": "alphabetic",
              "titleFontSize": 13, "titleFontWeight": "bold", "titleColor": "#1f2d8a"}},
          "y": {"field": "k", "type": "quantitative", "scale": {"domain": [-1, 1]},
            "axis": {"orient": "left", "domain": false, "labels": false, "grid": false,
              "title": ["　　科技板块中，半导体、光学光电子、通信景气趋势上行；传媒景气趋势下行，", "增速水平处于历史低位。"],
              "titleX": 188, "titleY": 64.8, "titleLineHeight": 21, "titleAngle": 0, "titleAlign": "left", "titleBaseline": "alphabetic", "titleFontSize": 14}}
        }
      },
      {
        "mark": {"type": "point", "opacity": 0, "size": 0},
        "encoding": {
          "x": {"field": "k", "type": "quantitative", "scale": {"domain": [-1, 1]},
            "axis": {"orient": "top", "offset": -16, "domainColor": "#3a3a3a", "domainWidth": 1.3, "labels": false, "grid": false,
              "title": "数据来源：Wind、开源证券研究所，截至 2024/10/09", "titleX": 0, "titleY": 15.6, "titleAngle": 0, "titleAlign": "left", "titleBaseline": "alphabetic", "titleFontSize": 12}}
        }
      }
    ],
    "resolve": {"scale": {"x": "independent"}}
  },
  {
    "width": 700, "height": 211,
    "layer": [
      {
        "data": {"name": "c2"},
        "mark": {"type": "line", "interpolate": "monotone", "strokeWidth": 1.4, "strokeJoin": "round"},
        "encoding": {
          "x": {"field": "t", "type": "quantitative", "title": null,
            "scale": {"domain": [2011.3, 2026.32], "range": [38, 698], "nice": false, "zero": false},
            "axis": {"orient": "bottom", "values": [2012,2013,2014,2015,2016,2017,2018,2019,2020,2021,2022,2023,2024,2025,2026],
              "labelExpr": "datum.value % 2 === 1 ? format(datum.value, 'd') : ''",
              "domainColor": "#c6c6c6", "domainWidth": 2, "labelFontSize": 11, "labelColor": "#555555", "labelPadding": 2,
              "grid": true, "gridWidth": 1, "gridColor": {"condition": {"test": "datum.value % 2 === 1", "value": "#e6e6e6"}, "value": "#f1f1f1"}}},
          "y": {"field": "v", "type": "quantitative",
            "scale": {"domain": [-4.2, 183], "nice": false, "zero": false},
            "axis": {"orient": "left", "offset": -38, "values": [0, 25, 50, 75, 100, 125, 150, 175],
              "labelExpr": "datum.value % 50 === 0 ? datum.value + '%' : ''",
              "domainColor": "#c6c6c6", "domainWidth": 2, "labelFontSize": 11, "labelColor": "#555555", "labelPadding": 2,
              "grid": true, "gridWidth": 1, "gridColor": {"condition": {"test": "datum.value % 50 === 0", "value": "#e6e6e6"}, "value": "#f1f1f1"},
              "title": "预期净利润增速", "titleX": -32, "titleY": 105.5, "titleAngle": 270, "titleAlign": "center", "titleBaseline": "middle",
              "titleFont": "Noto Sans CJK SC", "titleFontSize": 12.5, "titleColor": "#555555"}},
          "color": {"field": "s", "type": "nominal", "legend": null,
            "scale": {"domain": ["IT服务","半导体","传媒","光学光电子","软件开发","通信","消费电子"],
              "range": ["#F8766D","#C49A00","#53B400","#00C094","#00B6EB","#A58AFF","#FB61D7"]}}
        }
      },
      {
        "data": {"name": "c2lab"},
        "mark": {"type": "text", "align": "right", "baseline": "middle", "font": "Liberation Serif, Noto Sans CJK SC", "fontSize": 10.5},
        "encoding": {
          "x": {"datum": 2026.25, "type": "quantitative", "title": null},
          "y": {"field": "ly", "type": "quantitative", "title": "预期净利润增速"},
          "text": {"field": "label"},
          "color": {"field": "s", "type": "nominal", "legend": null}
        }
      }
    ]
  },
  {
    "width": 700, "height": 121,
    "data": {"name": "dummy"},
    "layer": [
      {
        "mark": {"type": "point", "opacity": 0, "size": 0},
        "encoding": {
          "x": {"field": "k", "type": "quantitative", "scale": {"domain": [-1, 1]},
            "axis": {"orient": "top", "offset": -15.3, "domainColor": "#3a3a3a", "domainWidth": 1.3, "labels": false, "grid": false,
              "title": "数据来源：Wind、开源证券研究所，截至 2024/10/09", "titleX": 0, "titleY": 15.6, "titleAngle": 0, "titleAlign": "left", "titleBaseline": "alphabetic", "titleFontSize": 12}},
          "y": {"field": "k", "type": "quantitative", "scale": {"domain": [-1, 1]},
            "axis": {"orient": "left", "domain": false, "labels": false, "grid": false,
              "title": "3、 重要行业景气估值比较", "titleX": 187, "titleY": 107.5, "titleAngle": 0, "titleAlign": "left", "titleBaseline": "alphabetic",
              "titleFontSize": 17, "titleFontWeight": "bold", "titleColor": "#1f2d8a"}}
        }
      },
      {
        "mark": {"type": "point", "opacity": 0, "size": 0},
        "encoding": {
          "x": {"field": "k", "type": "quantitative", "scale": {"domain": [-1, 1]},
            "axis": {"orient": "bottom", "domain": false, "labels": false, "grid": false,
              "title": "3.1、 高景气行业比较", "titleX": 187, "titleY": 27.8, "titleAngle": 0, "titleAlign": "left", "titleBaseline": "alphabetic",
              "titleFontSize": 16, "titleFontWeight": "bold", "titleColor": "#1f2d8a"}},
          "y": {"field": "k", "type": "quantitative", "scale": {"domain": [-1, 1]},
            "axis": {"orient": "right", "domain": false, "labels": false, "grid": false,
              "title": "7 / 12", "titleX": -1, "titleY": 346.5, "titleAngle": 0, "titleAlign": "right", "titleBaseline": "alphabetic", "titleFontSize": 13}}
        }
      }
    ],
    "resolve": {"scale": {"x": "independent", "y": "independent"}}
  },
  {
    "width": 700, "height": 211,
    "data": {"name": "dummy"},
    "layer": [
      {
        "mark": {"type": "point", "opacity": 0, "size": 0},
        "encoding": {
          "x": {"field": "k", "type": "quantitative", "scale": {"domain": [-1, 1]},
            "axis": {"orient": "bottom", "domainColor": "#222222", "domainWidth": 1.5, "labels": false, "grid": false,
              "title": "请务必参阅正文后面的信息披露和法律声明", "titleX": 0, "titleY": 15, "titleAngle": 0, "titleAlign": "left", "titleBaseline": "alphabetic", "titleFontSize": 13}},
          "y": {"field": "k", "type": "quantitative", "scale": {"domain": [-1, 1]},
            "axis": {"orient": "left", "domain": false, "labels": false, "grid": false,
              "title": ["　　我们对 42 个重要行业从盈利、成长、估值三个核心指标出发，分别对行业的财", "报值、分析师预期值、预期历史分位点、预期月度环比变动四个方面进行比较。"],
              "titleX": 188, "titleY": 58.3, "titleLineHeight": 20.3, "titleAngle": 0, "titleAlign": "left", "titleBaseline": "alphabetic", "titleFontSize": 14}}
        }
      },
      {
        "mark": {"type": "point", "opacity": 0, "size": 0},
        "encoding": {
          "x": {"field": "k", "type": "quantitative", "scale": {"domain": [-1, 1]},
            "axis": {"orient": "top", "domain": false, "labels": false, "grid": false,
              "title": ["　　当前处于高盈利的行业：（1）当前估值处于历史较低分位，白酒、电力、轻工", "制造、纺织服装；（2）当前估值处于历史中枢分位，通信、医疗器械、美容护理。"],
              "titleX": 188, "titleY": 185.3, "titleLineHeight": 20.3, "titleAngle": 0, "titleAlign": "left", "titleBaseline": "alphabetic", "titleFontSize": 14}},
          "y": {"field": "k", "type": "quantitative", "scale": {"domain": [-1, 1]},
            "axis": {"orient": "right", "domain": false, "labels": false, "grid": false,
              "title": ["　　当前处于高景气的行业：（1）当前估值处于历史较低分位，炼化贸易、保险、", "交通运输、光学光电子（边际下调）；（2）当前估值处于历史中枢分位，化学制药、", "农林牧渔（边际下调）、汽车。"],
              "titleX": -512, "titleY": 111.3, "titleLineHeight": 20.4, "titleAngle": 0, "titleAlign": "left", "titleBaseline": "alphabetic", "titleFontSize": 14}}
        }
      }
    ],
    "resolve": {"scale": {"x": "independent", "y": "independent"}}
  }
]
}
